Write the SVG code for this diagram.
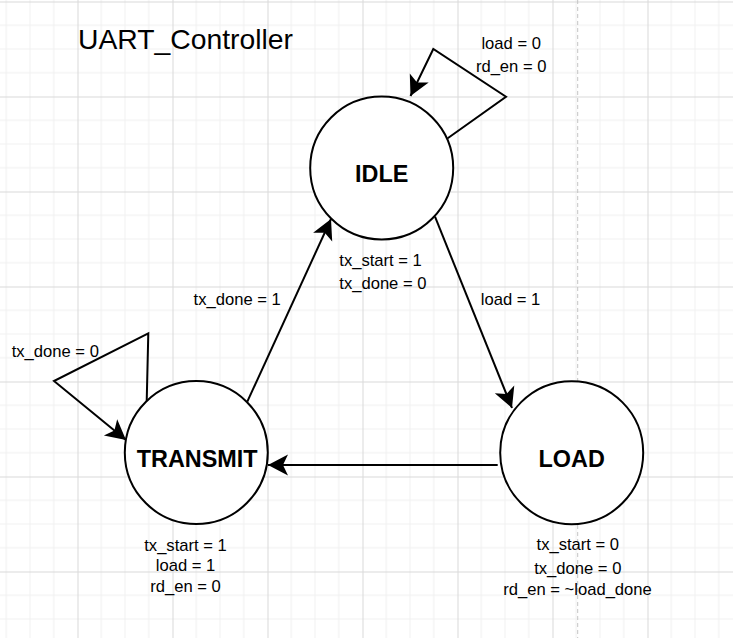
<svg xmlns="http://www.w3.org/2000/svg" width="733" height="638" viewBox="0 0 733 638">
<defs>
<pattern id="grid" patternUnits="userSpaceOnUse" x="77.5" y="1.5" width="95" height="95">
<rect x="0" y="0" width="95" height="95" fill="#ffffff"/>
<path d="M23.75,0V95M47.5,0V95M71.25,0V95M0,23.75H95M0,47.5H95M0,71.25H95" stroke="#f0f0f0" stroke-width="1" fill="none"/>
<path d="M0.5,0V95M0,0.5H95" stroke="#d9d9d9" stroke-width="1" fill="none"/>
</pattern>
<marker id="arrow" markerUnits="userSpaceOnUse" viewBox="-22 -12 24 24" refX="0" refY="0" markerWidth="24" markerHeight="24" orient="auto">
<path d="M0,0 L-20,-10.5 L-15,0 L-20,10.5 Z" fill="#000000"/>
</marker>
<style>
.state{fill:#ffffff;stroke:#000000;stroke-width:2}
.name{font-family:"Liberation Sans",Arial,sans-serif;font-size:23.4px;font-weight:bold;text-anchor:middle;fill:#000000}
.lbl{font-family:"Liberation Sans",Arial,sans-serif;font-size:16.6px;fill:#000000}
.mid{text-anchor:middle}
.edge{fill:none;stroke:#000000;stroke-width:2;marker-end:url(#arrow)}
</style>
</defs>
<rect x="0" y="0" width="733" height="638" fill="url(#grid)"/>
<line x1="577.7" y1="0" x2="577.7" y2="638" stroke="#c4c4c4" stroke-width="1" stroke-dasharray="4 3"/>
<text x="78" y="49" font-family="'Liberation Sans',Arial,sans-serif" font-size="28.3" fill="#000000">UART_Controller</text>
<g id="connectors">
<polyline class="edge" points="447.7,138.3 506,96.7 433.3,49 410.5,96"/>
<polyline class="edge" points="146.7,401.7 148.3,333.3 54,381 126,440"/>
<line class="edge" x1="247.3" y1="401.7" x2="331" y2="219"/>
<line class="edge" x1="435" y1="216.7" x2="512" y2="408"/>
<line class="edge" x1="497.7" y1="465" x2="268" y2="465"/>
<text class="lbl mid" x="511.2" y="49">load = 0</text>
<text class="lbl mid" x="511.2" y="71.7">rd_en = 0</text>
<text class="lbl mid" x="237.2" y="305">tx_done = 1</text>
<text class="lbl mid" x="510.5" y="305">load = 1</text>
<text class="lbl" x="11.7" y="356.7">tx_done = 0</text>
</g>
<g id="IDLE">
<circle class="state" cx="381.7" cy="168" r="71.5"/>
<text class="name" x="381.7" y="181.7">IDLE</text>
<text class="lbl" x="339.3" y="266">tx_start = 1</text>
<text class="lbl" x="339.3" y="289.3">tx_done = 0</text>
</g>
<g id="TRANSMIT">
<circle class="state" cx="196.3" cy="452.5" r="71.5"/>
<text class="name" x="197.2" y="466.5">TRANSMIT</text>
<text class="lbl mid" x="185.5" y="550.7">tx_start = 1</text>
<text class="lbl mid" x="185.5" y="570.7">load = 1</text>
<text class="lbl mid" x="185.5" y="591.7">rd_en = 0</text>
</g>
<g id="LOAD">
<circle class="state" cx="571.7" cy="452.7" r="71.5"/>
<text class="name" x="571.7" y="466.7">LOAD</text>
<text class="lbl mid" x="577.8" y="550">tx_start = 0</text>
<text class="lbl mid" x="577.8" y="574">tx_done = 0</text>
<text class="lbl mid" x="577.5" y="595">rd_en = ~load_done</text>
</g>
</svg>
